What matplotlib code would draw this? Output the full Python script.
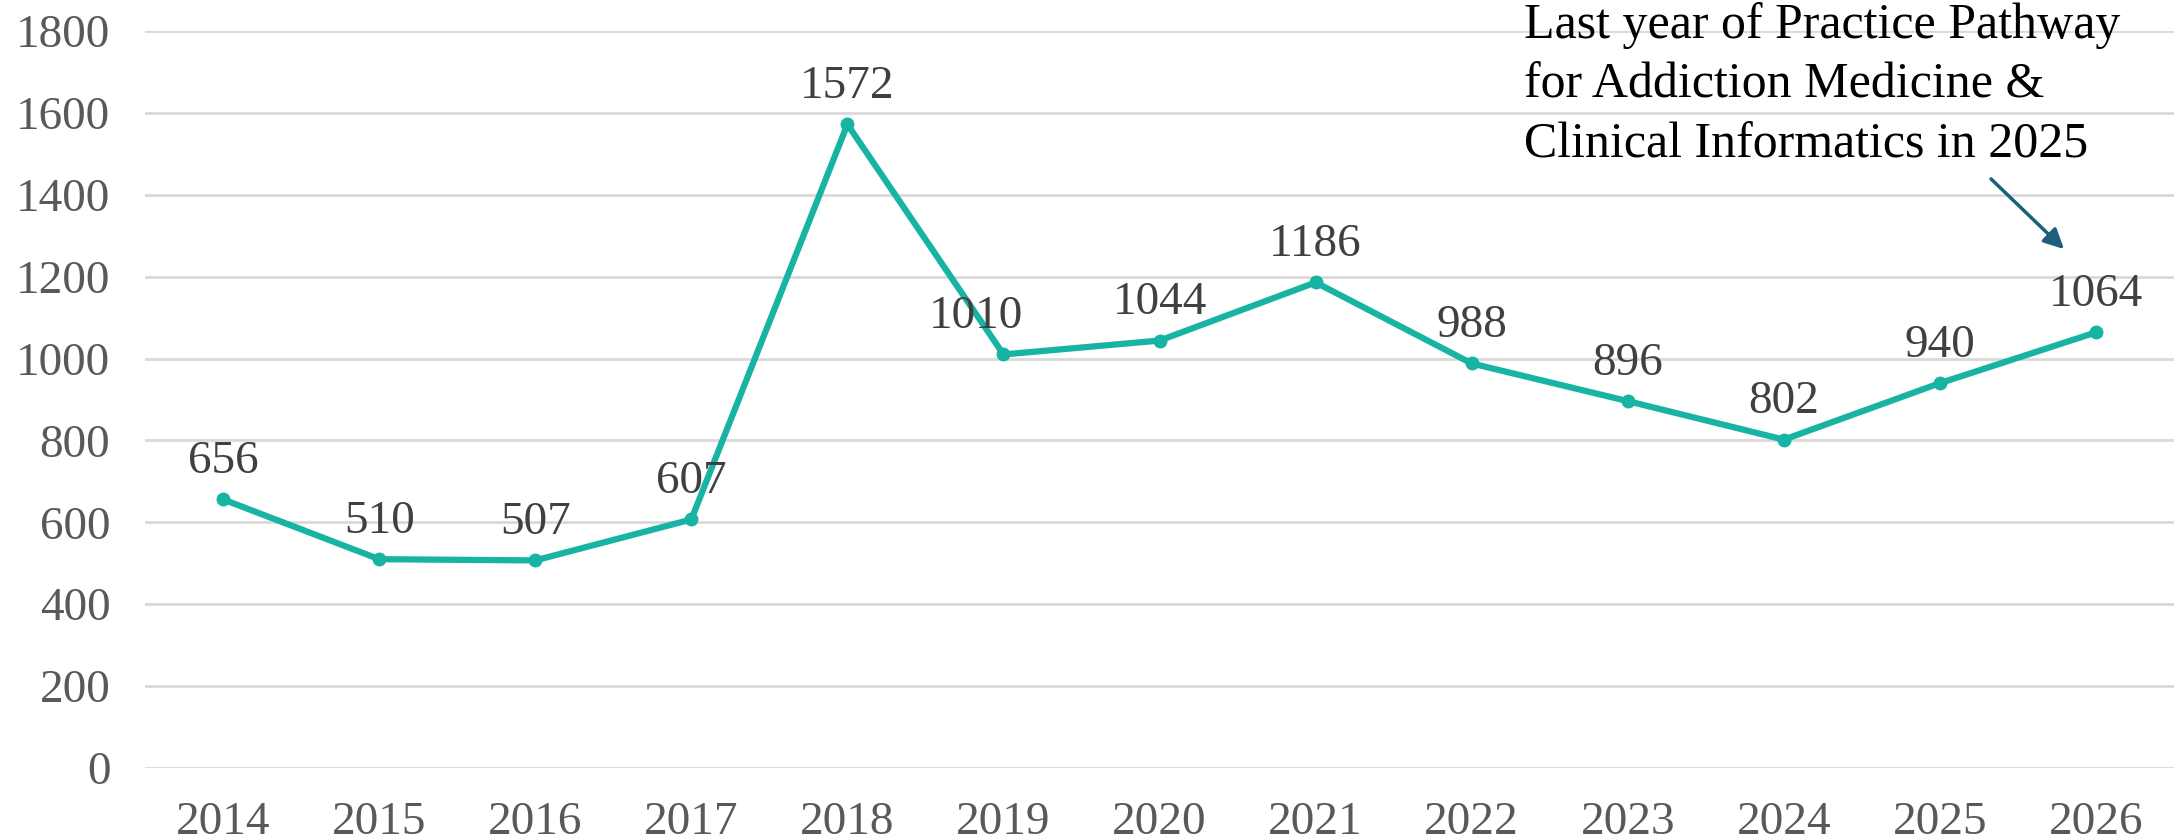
import matplotlib
matplotlib.use("Agg")
import matplotlib.pyplot as plt

years = ["2014", "2015", "2016", "2017", "2018", "2019", "2020",
         "2021", "2022", "2023", "2024", "2025", "2026"]
counts = [656, 510, 507, 607, 1572, 1010, 1044, 1186, 988, 896, 802, 940, 1064]
yticks = [0, 200, 400, 600, 800, 1000, 1200, 1400, 1600, 1800]
note = "Last year of Practice Pathway\nfor Addiction Medicine &\nClinical Informatics in 2025"

plt.rcParams['font.family'] = ['Liberation Serif', 'DejaVu Serif']

fig = plt.figure(figsize=(21.78, 8.4), dpi=100)
ax = fig.add_axes([0.0666, 0.0857, 0.9316, 0.8774])

xs = list(range(len(years)))
ax.plot(xs, counts, color="#17B3A3", linewidth=4.5, marker="o", markersize=9,
        solid_capstyle="round", zorder=3)

for i, v in enumerate(counts):
    dx = -20 if years[i] == "2019" else 0
    ax.annotate(str(v), (i, v), xytext=(dx, 19), textcoords="offset points",
                ha="center", va="baseline", fontsize=34, color="#404040")

ax.set_xlim(-0.5, len(years) - 0.5)
ax.set_ylim(0, 1800)
ax.set_xticks(xs)
ax.set_xticklabels(years)
ax.set_yticks(yticks)
ax.grid(axis="y", color="#D9D9D9", linewidth=2)
ax.set_axisbelow(True)
for s in ax.spines.values():
    s.set_visible(False)
ax.tick_params(axis="both", length=0, labelsize=34, labelcolor="#595959")
ax.tick_params(axis="x", pad=24)
ax.tick_params(axis="y", pad=25)

# note with arrow pointing at 2026
fig.text(1524 / 2178, 1 - 157 / 840, note, fontsize=36, color="black",
         ha="left", va="baseline", linespacing=1.36)
ax.annotate("", xy=(2066 / 2178, 1 - 251 / 840), xycoords="figure fraction",
            xytext=(1989 / 2178, 1 - 177 / 840), textcoords="figure fraction",
            arrowprops=dict(arrowstyle="-|>", color="#1B5E7E", lw=2.5,
                            mutation_scale=30))

fig.savefig("out.png", dpi=100)
